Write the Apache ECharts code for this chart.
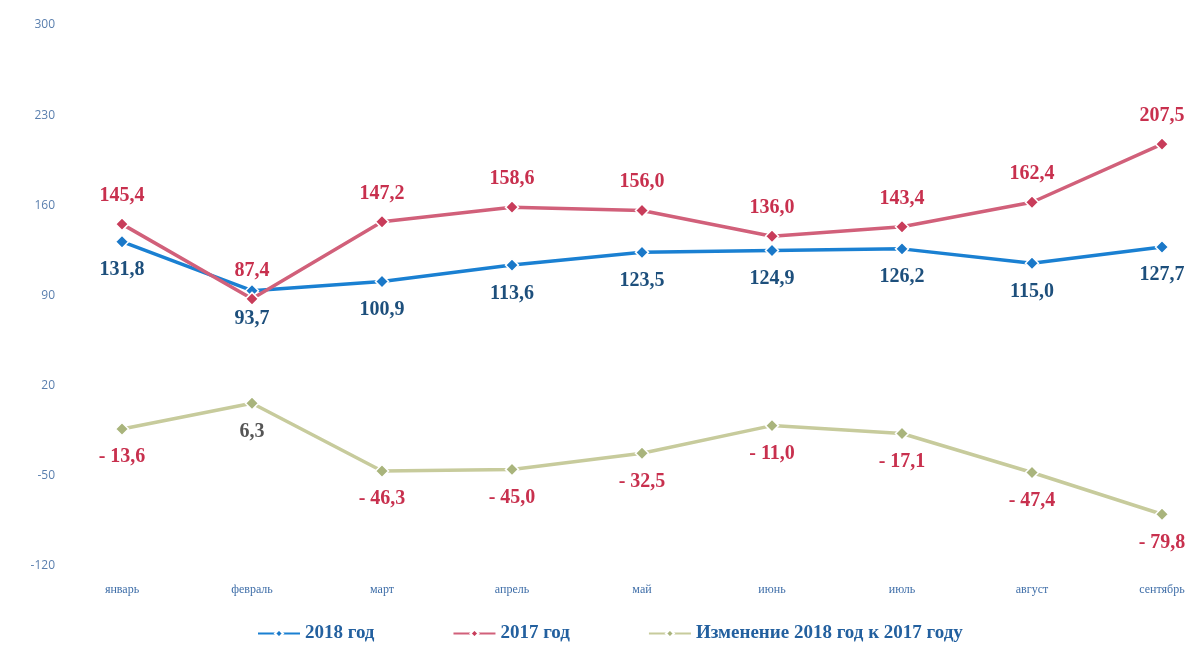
<!DOCTYPE html>
<html><head><meta charset="utf-8">
<script src="https://cdn.jsdelivr.net/npm/echarts@6/dist/echarts.min.js"></script>
<style>html,body{margin:0;padding:0;background:#fff}#c{width:1193px;height:650px}</style>
</head><body><div id="c"></div>
<script>
const categories = ['январь','февраль','март','апрель','май','июнь','июль','август','сентябрь'];
const values2018 = [131.8, 93.7, 100.9, 113.6, 123.5, 124.9, 126.2, 115.0, 127.7];
const values2017 = [145.4, 87.4, 147.2, 158.6, 156.0, 136.0, 143.4, 162.4, 207.5];
const valuesChange = [-13.6, 6.3, -46.3, -45.0, -32.5, -11.0, -17.1, -47.4, -79.8];
const seriesNames = ['2018 год', '2017 год', 'Изменение 2018 год к 2017 году'];

const fmt = v => {
  const s = Math.abs(v).toFixed(1).replace('.', ',');
  return v < 0 ? '- ' + s : s;
};
const labelFont = {fontFamily: '"Liberation Serif", "DejaVu Serif", serif', fontWeight: 'bold', fontSize: 20};

const chart = echarts.init(document.getElementById('c'));
chart.setOption({
  animation: false,
  backgroundColor: '#fff',
  grid: {left: 122, right: 31, top: 25, bottom: 84},
  xAxis: {
    type: 'category', data: categories, boundaryGap: false,
    axisLine: {show: false}, axisTick: {show: false}, splitLine: {show: false},
    axisLabel: {margin: 18, color: '#3f6ea8', fontSize: 12, fontFamily: '"Liberation Serif", serif'}
  },
  yAxis: {
    type: 'value', min: -120, max: 300, interval: 70,
    axisLine: {show: false}, axisTick: {show: false}, splitLine: {show: false},
    axisLabel: {margin: 67, color: '#5a7fae', fontSize: 12, fontFamily: '"Open Sans", sans-serif'}
  },
  legend: {
    bottom: 2, left: 252, itemGap: 78, itemWidth: 42, itemHeight: 10,
    textStyle: {color: '#23609f', fontSize: 19, fontWeight: 'bold', fontFamily: '"Liberation Serif", serif'},
    data: seriesNames
  },
  series: [
    {
      name: seriesNames[0], type: 'line', data: values2018,
      symbol: 'diamond', symbolSize: 13,
      lineStyle: {color: '#1a80d2', width: 3.5},
      itemStyle: {color: '#1a78c8', borderColor: '#fff', borderWidth: 1.5},
      label: {show: true, position: 'bottom', distance: 11, color: '#1d4f7c', ...labelFont, formatter: p => fmt(p.value)},
      z: 3
    },
    {
      name: seriesNames[1], type: 'line', data: values2017,
      symbol: 'diamond', symbolSize: 13,
      lineStyle: {color: '#d1607a', width: 3.5},
      itemStyle: {color: '#c83c5a', borderColor: '#fff', borderWidth: 1.5},
      label: {show: true, position: 'top', distance: 11, color: '#c8304e', ...labelFont, formatter: p => fmt(p.value)},
      z: 4
    },
    {
      name: seriesNames[2], type: 'line',
      data: valuesChange.map(v => v >= 0 ? {value: v, label: {color: '#555'}} : v),
      symbol: 'diamond', symbolSize: 13,
      lineStyle: {color: '#c7cb9c', width: 3.5},
      itemStyle: {color: '#a9b47c', borderColor: '#fff', borderWidth: 1.5},
      label: {show: true, position: 'bottom', distance: 11, ...labelFont,
        formatter: p => fmt(p.value), color: '#c8304e'},
      z: 2
    }
  ]
});
</script>
</body></html>
